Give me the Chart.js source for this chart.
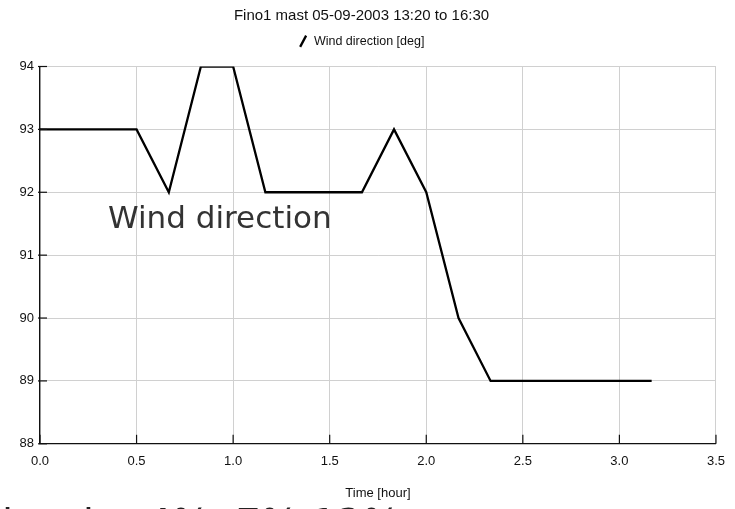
<!DOCTYPE html>
<html>
<head>
<meta charset="utf-8">
<script src="https://cdn.jsdelivr.net/npm/chart.js@4"></script>
<style>
  html, body { margin: 0; padding: 0; background: #fff; overflow: hidden; }
  #wrap { position: relative; width: 735px; height: 509px; overflow: hidden; }
  #note { position: absolute; left: 108px; top: 199px; font-family: "DejaVu Sans", sans-serif;
          font-size: 31px; line-height: 36px; color: #333; white-space: nowrap; }
  #cut { position: absolute; left: 2px; top: 504px; font-family: "DejaVu Sans", sans-serif;
         font-size: 40px; color: #222; white-space: pre; line-height: 1; }
</style>
</head>
<body>
<div id="wrap">
  <canvas id="chart" width="735" height="509"></canvas>
  <div id="note">Wind direction</div>
  <div id="cut">low h   4%  7% 12%</div>
</div>
<script>
// readings every 10 minutes, 13:20 to 16:30
const hours = [0, 0.167, 0.333, 0.5, 0.667, 0.833, 1.0, 1.167, 1.333, 1.5,
               1.667, 1.833, 2.0, 2.167, 2.333, 2.5, 2.667, 2.833, 3.0, 3.167];
const windDir = [93, 93, 93, 93, 92, 94, 94, 92, 92, 92,
                 92, 93, 92, 90, 89, 89, 89, 89, 89, 89];

const sans = '"Liberation Sans", Arial, sans-serif';

// small tick marks drawn inside the plot, like the original
const innerTicks = {
  id: 'innerTicks',
  afterDraw(chart) {
    const c = chart.ctx, a = chart.chartArea;
    const xs = chart.scales.x, ys = chart.scales.y;
    c.save();
    c.strokeStyle = '#111';
    c.lineWidth = 1.2;
    xs.ticks.forEach(t => {
      const px = xs.getPixelForValue(t.value);
      c.beginPath(); c.moveTo(px, a.bottom - 9); c.lineTo(px, a.bottom); c.stroke();
    });
    ys.ticks.forEach(t => {
      const py = ys.getPixelForValue(t.value);
      c.beginPath(); c.moveTo(a.left - 2, py); c.lineTo(a.left + 7, py); c.stroke();
    });
    c.restore();
  }
};

// empty box between legend and plot to push the plot down
const gap = {
  id: 'gap',
  beforeInit(chart) {
    Chart.layouts.addBox(chart, {
      position: 'top', weight: 0, fullSize: true, options: {},
      left: 0, top: 0, right: 0, bottom: 0, width: 0, height: 0,
      isHorizontal() { return true; },
      update(maxW) { this.width = maxW; this.height = 9; },
      draw() {}
    });
  }
};

const chart = new Chart(document.getElementById('chart'), {
  type: 'line',
  data: {
    datasets: [{
      label: 'Wind direction [deg]',
      data: hours.map((h, i) => ({ x: h, y: windDir[i] })),
      borderColor: '#000',
      backgroundColor: '#000',
      borderWidth: 2.3,
      tension: 0,
      pointRadius: 0,
      pointStyle: 'line',
      pointRotation: -62
    }]
  },
  options: {
    responsive: false,
    animation: false,
    layout: { padding: { left: 0, right: 12, top: 0, bottom: 2 } },
    plugins: {
      title: {
        display: true,
        text: 'Fino1 mast 05-09-2003 13:20 to 16:30',
        color: '#111',
        font: { family: sans, size: 15, weight: 'normal' },
        padding: { top: 7, bottom: 2 }
      },
      legend: {
        display: true,
        labels: {
          usePointStyle: true,
          boxHeight: 9,
          boxWidth: 9,
          padding: 8,
          color: '#111',
          font: { family: sans, size: 12.5 }
        }
      },
      tooltip: { enabled: false }
    },
    scales: {
      x: {
        type: 'linear',
        min: 0,
        max: 3.5,
        ticks: {
          stepSize: 0.5,
          color: '#111',
          padding: 10,
          font: { family: sans, size: 13 },
          callback: v => v.toFixed(1)
        },
        grid: { color: '#d0d0d0', drawTicks: false },
        border: { color: '#111', width: 1.3 },
        title: {
          display: true,
          text: 'Time [hour]',
          color: '#111',
          font: { family: sans, size: 13 },
          padding: { top: 6, bottom: 6 }
        }
      },
      y: {
        min: 88,
        max: 94,
        ticks: {
          stepSize: 1,
          color: '#111',
          padding: 6,
          font: { family: sans, size: 13 }
        },
        grid: { color: '#d0d0d0', drawTicks: false },
        border: { color: '#111', width: 1.3 },
        afterFit(scale) { scale.width = 40; }
      }
    }
  },
  plugins: [gap, innerTicks]
});
</script>
</body>
</html>
